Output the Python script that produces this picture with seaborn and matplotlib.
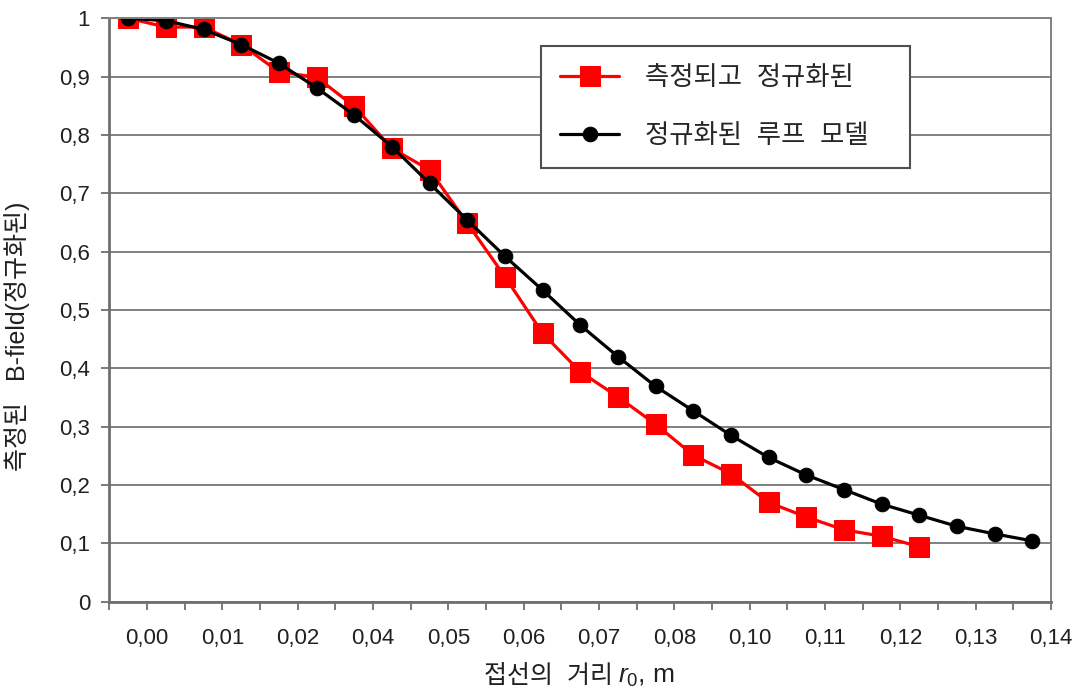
import numpy as np
import pandas as pd
import seaborn as sns
import matplotlib.pyplot as plt
from matplotlib.transforms import ScaledTranslation

# values, one per category (r0 step ~0.005 m)
measured = [1.000, 0.985, 0.985, 0.955, 0.908, 0.899, 0.849, 0.777, 0.740, 0.649,
            0.557, 0.460, 0.394, 0.351, 0.304, 0.251, 0.219, 0.170, 0.145, 0.123,
            0.112, 0.094]
model = [1.000, 0.996, 0.981, 0.955, 0.923, 0.881, 0.834, 0.780, 0.717, 0.654,
         0.592, 0.534, 0.474, 0.420, 0.369, 0.327, 0.285, 0.247, 0.217, 0.192,
         0.167, 0.148, 0.129, 0.116, 0.104]
tick_labels = ['0,00', '0,01', '0,02', '0,04', '0,05', '0,06', '0,07', '0,08',
               '0,10', '0,11', '0,12', '0,13', '0,14']
y_ticks = [0, 0.1, 0.2, 0.3, 0.4, 0.5, 0.6, 0.7, 0.8, 0.9, 1]
y_labels = ['0', '0,1', '0,2', '0,3', '0,4', '0,5', '0,6', '0,7', '0,8', '0,9', '1']

label_meas = '측정되고  정규화된'
label_model = '정규화된  루프  모델'

df_meas = pd.DataFrame({'pos': np.arange(len(measured)), 'value': measured})
df_model = pd.DataFrame({'pos': np.arange(len(model)), 'value': model})

sns.set_theme(style='white')
plt.rcParams['font.family'] = ['Liberation Sans', 'Noto Sans CJK KR']
plt.rcParams['mathtext.fontset'] = 'custom'
plt.rcParams['mathtext.rm'] = 'Liberation Sans'
plt.rcParams['mathtext.it'] = 'Liberation Sans:italic'

fig = plt.figure(figsize=(10.88, 6.97), dpi=100)
ax = fig.add_axes([0.1006, 0.137, 0.8654, 0.8367])

sns.lineplot(data=df_meas, x='pos', y='value', ax=ax, color='#ff0000', lw=2.3,
             marker='s', markersize=15, markeredgecolor='#ff0000', label=label_meas)
sns.lineplot(data=df_model, x='pos', y='value', ax=ax, color='black', lw=2.3,
             marker='o', markersize=10.5, markeredgecolor='black', label=label_model)

ax.set_xlim(-0.5, 24.5)
ax.set_ylim(0, 1)

# category boundaries carry the ticks, every other one gets a label
bounds = np.arange(-0.5, 25, 1.0)
xl = []
j = 0
for k in range(len(bounds)):
    if k % 2 == 1:
        xl.append(tick_labels[j])
        j += 1
    else:
        xl.append('')
ax.set_xticks(bounds)
ax.set_xticklabels(xl, fontsize=16)
for t in ax.get_xticklabels():
    t.set_transform(t.get_transform() + ScaledTranslation(8 / 100, 0, fig.dpi_scale_trans))

ax.set_yticks(y_ticks)
ax.set_yticklabels(y_labels, fontsize=16)

ax.tick_params(axis='both', direction='out', length=6, width=1.3, color='#707070',
               colors='#202020')
ax.tick_params(axis='x', pad=13, bottom=True)
ax.tick_params(axis='y', pad=8, left=True)

ax.yaxis.grid(True, color='#808080', lw=1.4)
ax.xaxis.grid(False)
for s in ax.spines.values():
    s.set_visible(True)
    s.set_color('#808080')
    s.set_linewidth(1.4)
ax.spines['left'].set_color('#707070')
ax.spines['bottom'].set_color('#707070')
ax.spines['left'].set_linewidth(2)
ax.spines['bottom'].set_linewidth(2)

# x title in two pieces: mathtext cannot fall back to the hangul font
ax.set_xlabel('')
fig.text(613 / 1088, 0.02, '접선의  거리', fontsize=18, color='#202020',
         ha='right', va='baseline')
fig.text(618 / 1088, 0.02, r'$r_0$, m', fontsize=19, color='#202020',
         ha='left', va='baseline')

ax.set_ylabel('측정된   B-field(정규화된)', fontsize=18, color='#202020')
ax.yaxis.label.set_va('center')
ax.yaxis.set_label_coords(-0.098, 0.455)

leg = ax.legend(loc='upper left', bbox_to_anchor=(0.458, 0.9525), borderaxespad=0,
                fontsize=19, frameon=True, fancybox=False, framealpha=1,
                edgecolor='#505050', handlelength=2.2, handletextpad=1.0,
                borderpad=0.75, labelspacing=1.3)
leg.get_frame().set_linewidth(1.5)
for t in leg.get_texts():
    t.set_text(t.get_text() + '\u00a0\u00a0\u00a0')

fig.savefig('out.png', dpi=100, facecolor='white')
